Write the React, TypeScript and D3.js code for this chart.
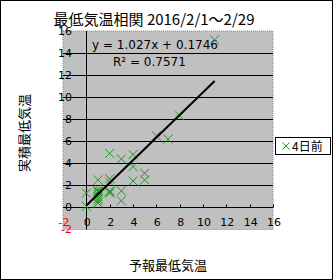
import React from "react";
import * as d3 from "d3";

const forecastX = [11, 8, 6, 7, 2, 3, 4, 4, 5, 5, 4, 2, 1, 2, 2, 3, 3, 0, 0, 1, 1, 1, 1, 1, 2, 1, 1, 2, 1];
const actualY = [15.2, 8.3, 6.5, 6.2, 4.9, 4.4, 4.8, 3.7, 3.1, 2.5, 2.4, 2.6, 2.5, 1.5, 1.3, 1.5, 0.6, 1.3, 0.1, 1.7, 1.4, 1.2, 0.8, 0.4, 2.3, 0.6, 1.5, 1.4, 1.0];
const slope = 1.027;
const intercept = 0.1746;
const r2 = 0.7571;
const axisTicks = [-2, 0, 2, 4, 6, 8, 10, 12, 14, 16];
const gridTicks = [2, 4, 6, 8, 10, 12, 14];
const titleText = "最低気温相関 2016/2/1～2/29";
const xLabel = "予報最低気温";
const yLabel = "実積最低気温";
const seriesName = "4日前";

const GREEN = "#1f9a1f";
const FONT = "'Noto Sans CJK JP', 'DejaVu Sans', sans-serif";

function Cross({ x, y, s = 4.5 }: { x: number; y: number; s?: number }) {
  return (
    <g stroke={GREEN} strokeWidth={1}>
      <line x1={x - s} y1={y - s} x2={x + s} y2={y + s} />
      <line x1={x - s} y1={y + s} x2={x + s} y2={y - s} />
    </g>
  );
}

export default function App() {
  const W = 333, H = 280;
  const x = d3.scaleLinear().domain([-2, 16]).range([63, 273]);
  const y = d3.scaleLinear().domain([-2, 16]).range([229.5, 31]);
  const xMax = d3.max(forecastX) as number;
  const xMin = d3.min(forecastX) as number;
  const pts = forecastX.map((v, i) => [v, actualY[i]] as [number, number]);

  return (
    <svg width={W} height={H} style={{ position: "absolute", left: 0, top: 0, fontFamily: FONT }}>
      <rect x={0} y={0} width={W} height={H} fill="white" />
      <rect x={0.5} y={0.5} width={W - 1} height={H - 1} fill="none" stroke="black" />
      <text x={154} y={25} textAnchor="middle" fontSize={15} fill="black">{titleText}</text>
      {/* plot area */}
      <rect x={x(-2)} y={y(16)} width={x(16) - x(-2)} height={y(-2) - y(16)} fill="#c0c0c0" stroke="#8a8a8a" strokeDasharray="1,1" />
      {/* tick labels */}
      {axisTicks.map((t) => (
        <text key={"y" + t} x={72} y={y(t)} dy="0.35em" textAnchor="end" fontSize={11} fill={t < 0 ? "red" : "black"} fontFamily="'DejaVu Sans', sans-serif">{t}</text>
      ))}
      {axisTicks.map((t) => (
        <text key={"x" + t} x={x(t) + 1} y={222} dy="0.35em" textAnchor="middle" fontSize={11} fill={t < 0 ? "red" : "black"} fontFamily="'DejaVu Sans', sans-serif">{t}</text>
      ))}
      {/* grid */}
      {gridTicks.map((t) => (
        <line key={"g" + t} x1={x(-2)} x2={x(16)} y1={Math.round(y(t)) + 0.5} y2={Math.round(y(t)) + 0.5} stroke="black" />
      ))}
      <line x1={x(-2)} x2={x(16)} y1={Math.round(y(0)) + 0.5} y2={Math.round(y(0)) + 0.5} stroke="black" />
      <line x1={Math.round(x(0)) + 0.5} x2={Math.round(x(0)) + 0.5} y1={y(16)} y2={y(-2)} stroke="black" />
      {axisTicks.filter((t) => t > 0).map((t) => (
        <line key={"xt" + t} x1={Math.round(x(t)) + 0.5} x2={Math.round(x(t)) + 0.5} y1={y(0)} y2={y(0) - 3} stroke="black" />
      ))}
      {/* equation */}
      <text x={92} y={49} fontSize={12} fill="black" fontFamily="'DejaVu Sans', sans-serif">y = {slope}x + {intercept}</text>
      <text x={113} y={66} fontSize={12} fill="black" fontFamily="'DejaVu Sans', sans-serif">R² = {r2}</text>
      {/* points */}
      {pts.map(([a, b], i) => (
        <Cross key={i} x={x(a)} y={y(b)} />
      ))}
      {/* trendline */}
      <line x1={x(xMin)} y1={y(slope * xMin + intercept)} x2={x(xMax)} y2={y(slope * xMax + intercept)} stroke="black" strokeWidth={2} />
      {/* axis titles */}
      <text x={168} y={270} textAnchor="middle" fontSize={13} fill="black">{xLabel}</text>
      <text transform="translate(29,133) rotate(-90)" textAnchor="middle" fontSize={13} fill="black">{yLabel}</text>
      {/* legend */}
      <rect x={275.5} y={137.5} width={55} height={17} fill="white" stroke="black" />
      <Cross x={286} y={146} s={3.5} />
      <text x={292} y={150.5} fontSize={12} fill="black">{seriesName}</text>
    </svg>
  );
}
